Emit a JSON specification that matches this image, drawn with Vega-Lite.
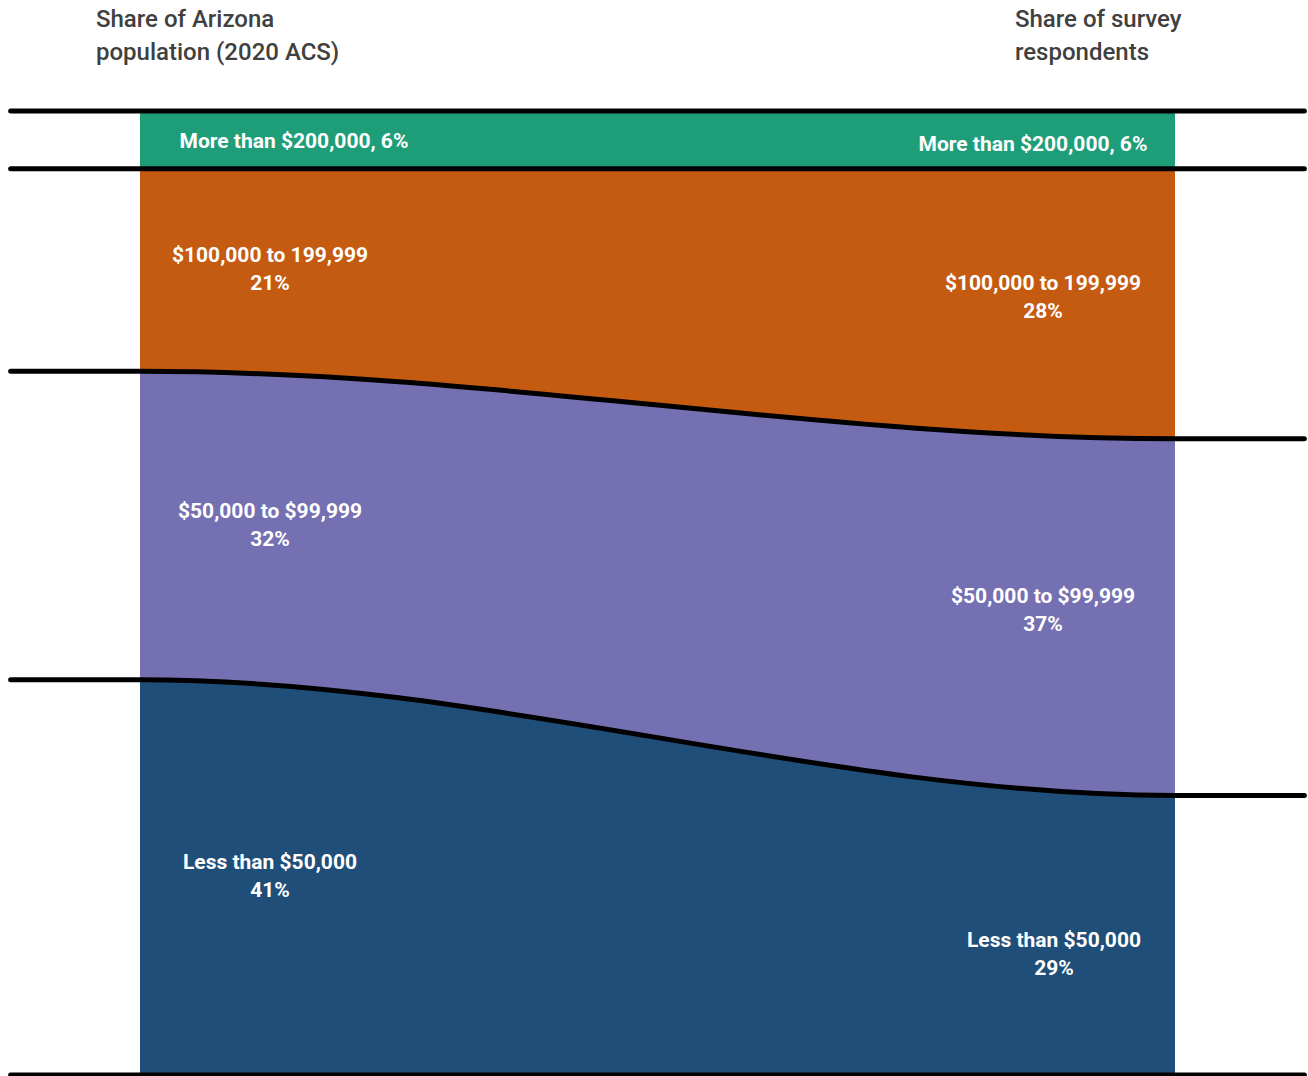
{
  "$schema": "https://vega.github.io/schema/vega-lite/v6.json",
  "width": 1308,
  "height": 1076,
  "autosize": "none",
  "padding": 0,
  "background": "white",
  "config": {"view": {"stroke": null}},
  "datasets": {
    "flows": [
      {"income": "Less than $50,000", "rank": 1, "x": -0.125, "share": 41},
      {"income": "Less than $50,000", "rank": 1, "x": 0, "share": 41},
      {"income": "Less than $50,000", "rank": 1, "x": 1, "share": 29},
      {"income": "Less than $50,000", "rank": 1, "x": 1.125, "share": 29},
      {"income": "$50,000 to $99,999", "rank": 2, "x": -0.125, "share": 32},
      {"income": "$50,000 to $99,999", "rank": 2, "x": 0, "share": 32},
      {"income": "$50,000 to $99,999", "rank": 2, "x": 1, "share": 37},
      {"income": "$50,000 to $99,999", "rank": 2, "x": 1.125, "share": 37},
      {"income": "$100,000 to 199,999", "rank": 3, "x": -0.125, "share": 21},
      {"income": "$100,000 to 199,999", "rank": 3, "x": 0, "share": 21},
      {"income": "$100,000 to 199,999", "rank": 3, "x": 1, "share": 28},
      {"income": "$100,000 to 199,999", "rank": 3, "x": 1.125, "share": 28},
      {"income": "More than $200,000", "rank": 4, "x": -0.125, "share": 6},
      {"income": "More than $200,000", "rank": 4, "x": 0, "share": 6},
      {"income": "More than $200,000", "rank": 4, "x": 1, "share": 6},
      {"income": "More than $200,000", "rank": 4, "x": 1.125, "share": 6}
    ],
    "labels": [
      {"income": "Less than $50,000", "rank": 1, "side": 0, "share": 41, "label": "Less than $50,000\n41%"},
      {"income": "$50,000 to $99,999", "rank": 2, "side": 0, "share": 32, "label": "$50,000 to $99,999\n32%"},
      {"income": "$100,000 to 199,999", "rank": 3, "side": 0, "share": 21, "label": "$100,000 to 199,999\n21%"},
      {"income": "More than $200,000", "rank": 4, "side": 0, "share": 6, "label": "More than $200,000, 6%"},
      {"income": "Less than $50,000", "rank": 1, "side": 1, "share": 29, "label": "Less than $50,000\n29%"},
      {"income": "$50,000 to $99,999", "rank": 2, "side": 1, "share": 37, "label": "$50,000 to $99,999\n37%"},
      {"income": "$100,000 to 199,999", "rank": 3, "side": 1, "share": 28, "label": "$100,000 to 199,999\n28%"},
      {"income": "More than $200,000", "rank": 4, "side": 1, "share": 6, "label": "More than $200,000, 6%"}
    ],
    "titles": [
      {"side": 0, "title": "Share of Arizona\npopulation (2020 ACS)"},
      {"side": 1, "title": "Share of survey\nrespondents"}
    ]
  },
  "layer": [
    {
      "data": {"name": "flows"},
      "transform": [
        {"stack": "share", "groupby": ["x"], "sort": [{"field": "rank", "order": "ascending"}], "as": ["y0", "y1"]}
      ],
      "encoding": {
        "x": {"field": "x", "type": "quantitative", "scale": {"domain": [-0.135266, 1.128502], "nice": false, "zero": false}, "axis": null}
      },
      "layer": [
        {
          "mark": {"type": "area", "interpolate": "monotone", "opacity": 1},
          "encoding": {
            "y": {"field": "y1", "type": "quantitative", "scale": {"domain": [-0.1037, 111.5145], "nice": false, "zero": false}, "axis": null},
            "y2": {"field": "y0"},
            "color": {
              "field": "income", "type": "nominal", "legend": null,
              "scale": {
                "domain": ["Less than $50,000", "$50,000 to $99,999", "$100,000 to 199,999", "More than $200,000"],
                "range": ["#1f4e79", "#7570b2", "#c55a11", "#1e9e78"]
              }
            },
            "order": {"field": "rank"}
          }
        },
        {
          "mark": {"type": "rect", "color": "white"},
          "encoding": {
            "x": {"datum": -0.2},
            "x2": {"datum": 0},
            "y": {"datum": -0.5},
            "y2": {"datum": 100.5}
          }
        },
        {
          "mark": {"type": "rect", "color": "white"},
          "encoding": {
            "x": {"datum": 1},
            "x2": {"datum": 1.2},
            "y": {"datum": -0.5},
            "y2": {"datum": 100.5}
          }
        },
        {
          "mark": {"type": "line", "interpolate": "monotone", "color": "black", "strokeWidth": 5, "strokeCap": "round"},
          "encoding": {
            "y": {"field": "y1", "type": "quantitative"},
            "detail": {"field": "income"}
          }
        },
        {
          "transform": [{"filter": "datum.rank == 1"}],
          "mark": {"type": "line", "interpolate": "monotone", "color": "black", "strokeWidth": 5, "strokeCap": "round"},
          "encoding": {
            "y": {"field": "y0", "type": "quantitative"},
            "detail": {"field": "income"}
          }
        }
      ]
    },
    {
      "data": {"name": "labels"},
      "transform": [
        {"stack": "share", "groupby": ["side"], "sort": [{"field": "rank", "order": "ascending"}], "as": ["y0", "y1"]},
        {"calculate": "(datum.y0 + datum.y1) / 2", "as": "mid"}
      ],
      "encoding": {
        "x": {"field": "side", "type": "quantitative"},
        "y": {"field": "mid", "type": "quantitative"},
        "text": {"field": "label"}
      },
      "layer": [
        {
          "transform": [{"filter": "datum.side == 0 && datum.rank < 4"}],
          "mark": {"type": "text", "align": "center", "baseline": "middle", "dx": 130, "dy": -14, "lineBreak": "\n", "lineHeight": 28, "font": "Roboto", "fontSize": 21, "fontWeight": "bold", "color": "white"}
        },
        {
          "transform": [{"filter": "datum.side == 1 && datum.rank > 1 && datum.rank < 4"}],
          "mark": {"type": "text", "align": "center", "baseline": "middle", "dx": -132, "dy": -20, "lineBreak": "\n", "lineHeight": 28, "font": "Roboto", "fontSize": 21, "fontWeight": "bold", "color": "white"}
        },
        {
          "transform": [{"filter": "datum.side == 1 && datum.rank == 1"}],
          "mark": {"type": "text", "align": "center", "baseline": "middle", "dx": -121, "dy": 6, "lineBreak": "\n", "lineHeight": 28, "font": "Roboto", "fontSize": 21, "fontWeight": "bold", "color": "white"}
        },
        {
          "transform": [{"filter": "datum.side == 0 && datum.rank == 4"}],
          "mark": {"type": "text", "align": "center", "baseline": "middle", "dx": 154, "dy": 2, "font": "Roboto", "fontSize": 21, "fontWeight": "bold", "color": "white"}
        },
        {
          "transform": [{"filter": "datum.side == 1 && datum.rank == 4"}],
          "mark": {"type": "text", "align": "center", "baseline": "middle", "dx": -142, "dy": 5, "font": "Roboto", "fontSize": 21, "fontWeight": "bold", "color": "white"}
        }
      ]
    },
    {
      "data": {"name": "titles"},
      "encoding": {
        "x": {"field": "side", "type": "quantitative"},
        "y": {"datum": 100},
        "text": {"field": "title"}
      },
      "layer": [
        {
          "transform": [{"filter": "datum.side == 0"}],
          "mark": {"type": "text", "align": "left", "baseline": "middle", "dx": -44, "dy": -91, "lineBreak": "\n", "lineHeight": 33, "font": "Roboto", "fontSize": 24, "fontWeight": 500, "color": "#404040"}
        },
        {
          "transform": [{"filter": "datum.side == 1"}],
          "mark": {"type": "text", "align": "left", "baseline": "middle", "dx": -160, "dy": -91, "lineBreak": "\n", "lineHeight": 33, "font": "Roboto", "fontSize": 24, "fontWeight": 500, "color": "#404040"}
        }
      ]
    }
  ]
}
